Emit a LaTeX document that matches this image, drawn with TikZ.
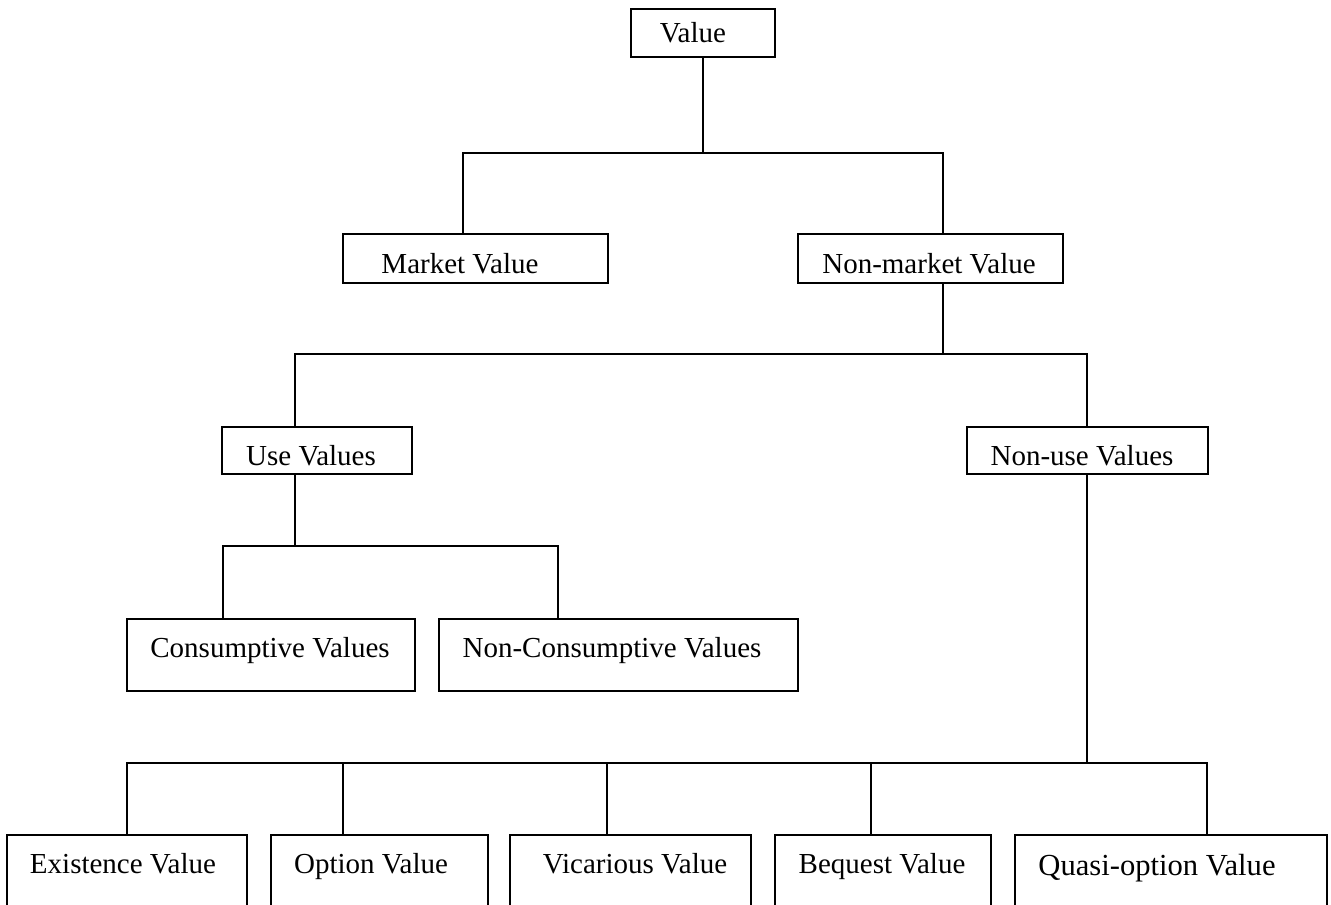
\documentclass[tikz,border=0pt]{standalone}
\usepackage{fontspec}
\setmainfont{Liberation Serif}
\begin{document}
\begin{tikzpicture}[x=0.5pt,y=-0.5pt,
  box/.style={draw=black,line width=1pt,inner sep=0pt,outer sep=0pt,rectangle},
  lbl/.style={inner sep=0pt,anchor=base,font=\fontsize{14.5pt}{17pt}\selectfont},
  bigl/.style={lbl,font=\fontsize{15.3pt}{18pt}\selectfont},
  conn/.style={draw=black,line width=1pt}]
\useasboundingbox (0,0) rectangle (1331,904);
\clip (0,0) rectangle (1331,904);
% boxes
\node[box,minimum width=72pt,minimum height=24pt] (value) at (703,33) {};
\node[box,minimum width=132.5pt,minimum height=24.5pt] (market) at (475.5,258.5) {};
\node[box,minimum width=132.5pt,minimum height=24.5pt] (nonmarket) at (930.5,258.5) {};
\node[box,minimum width=95pt,minimum height=23.5pt] (use) at (317,450.5) {};
\node[box,minimum width=120.5pt,minimum height=23.5pt] (nonuse) at (1087,450.5) {};
\node[box,minimum width=144pt,minimum height=36pt] (cons) at (271,655) {};
\node[box,minimum width=179.5pt,minimum height=36pt] (noncons) at (618.5,655) {};
\node[box,minimum width=120pt,minimum height=50pt] (exist) at (127,885) {};
\node[box,minimum width=108.5pt,minimum height=50pt] (option) at (379.5,885) {};
\node[box,minimum width=120.5pt,minimum height=50pt] (vicar) at (630.5,885) {};
\node[box,minimum width=108pt,minimum height=50pt] (bequest) at (883,885) {};
\node[box,minimum width=156pt,minimum height=50pt] (quasi) at (1171,885) {};
% labels
\node[lbl] (valueT) at (693,43) {Value};
\node[lbl] (marketT) at (460,273) {Market Value};
\node[lbl] (nonmarketT) at (929,273) {Non-market Value};
\node[lbl] (useT) at (311,465) {Use Values};
\node[lbl] (nonuseT) at (1082,465) {Non-use Values};
\node[lbl] (consT) at (270,657) {Consumptive Values};
\node[lbl] (nonconsT) at (612,657) {Non-Consumptive Values};
\node[lbl] (existT) at (123,873) {Existence Value};
\node[lbl] (optionT) at (371,873) {Option Value};
\node[lbl] (vicarT) at (635,873) {Vicarious Value};
\node[lbl] (bequestT) at (882,873) {Bequest Value};
\node[bigl] (quasiT) at (1157,875) {Quasi-option Value};
% junction coordinates
\coordinate (j1l) at (463,153);
\coordinate (j1r) at (943,153);
\coordinate (j2l) at (295,354);
\coordinate (j2r) at (1087,354);
\coordinate (j3l) at (223,546);
\coordinate (j3r) at (558,546);
\coordinate (j4a) at (127,763);
\coordinate (j4b) at (343,763);
\coordinate (j4c) at (607,763);
\coordinate (j4d) at (871,763);
\coordinate (j4e) at (1207,763);
% connectors
\draw[conn] (value.south) -- (value.south |- j1l);
\draw[conn] (market.north -| j1l) -- (j1l) -- (j1r) -- (nonmarket.north -| j1r);
\draw[conn] (nonmarket.south -| j1r) -- (j1r |- j2l);
\draw[conn] (use.north -| j2l) -- (j2l) -- (j2r) -- (nonuse.north -| j2r);
\draw[conn] (use.south -| j2l) -- (j2l |- j3l);
\draw[conn] (cons.north -| j3l) -- (j3l) -- (j3r) -- (noncons.north -| j3r);
\draw[conn] (nonuse.south -| j2r) -- (j2r |- j4a);
\draw[conn] (exist.north -| j4a) -- (j4a) -- (j4e) -- (quasi.north -| j4e);
\draw[conn] (j4b) -- (option.north -| j4b);
\draw[conn] (j4c) -- (vicar.north -| j4c);
\draw[conn] (j4d) -- (bequest.north -| j4d);
\end{tikzpicture}
\end{document}
